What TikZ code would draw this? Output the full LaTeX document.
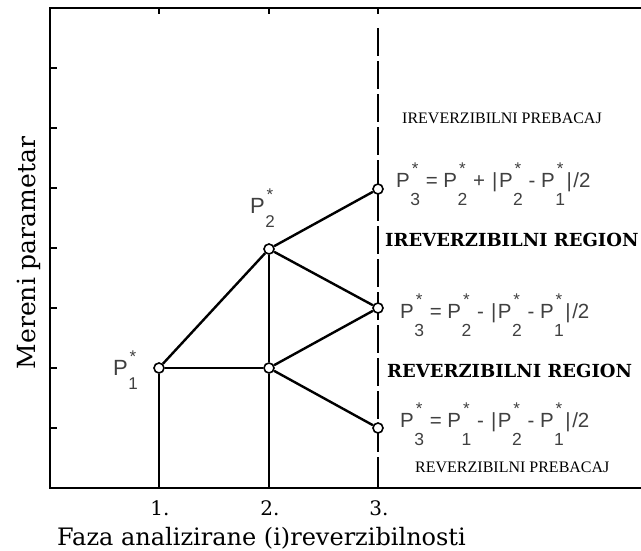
\documentclass[tikz,border=0pt]{standalone}
\usepackage{fontspec}
\setmainfont{DejaVu Serif}
\newfontfamily\eqfont{Liberation Sans}
\newfontfamily\capfont{Liberation Serif}
\newcommand\fsz[1]{\fontsize{#1}{#1}\selectfont}
% P with stacked star and index, equation size
\newcommand\Pq[1]{P\kern0.5pt\rlap{\kern1.4pt\raisebox{12.5pt}{\fsz{17}*}}\raisebox{-18pt}{\fsz{17.5}#1}}
% P with stacked star and index, point-label size
\newcommand\Pl[1]{{\fsz{22}P}\kern0.5pt\rlap{\kern1.2pt\raisebox{13pt}{\fsz{17}*}}\raisebox{-14pt}{\fsz{17}#1}}
\newcommand\absbar{\kern1.5pt|\kern1.5pt}
\tikzset{
  frame/.style={line width=2.5pt, line cap=rect},
  tick/.style={line width=1.5pt},
  thin line/.style={line width=1.2pt},
  thick line/.style={line width=2.4pt},
  dashline/.style={line width=1.1pt, dash pattern=on 28pt off 5pt},
  pt/.style={circle, draw, fill=white, line width=1.6pt, minimum size=10pt, inner sep=0pt},
  eq/.style={anchor=base west, inner sep=0pt, text=black!75, font=\eqfont\fsz{20.5}},
  plabel/.style={anchor=base west, inner sep=0pt, text=black!75, font=\eqfont},
  region/.style={anchor=base west, inner sep=0pt, font=\bfseries\fsz{18}},
  switch/.style={anchor=base west, inner sep=0pt, font=\capfont\fsz{16}},
  phase/.style={anchor=base, inner sep=0pt, font=\fsz{20}},
  axlabel/.style={inner sep=0pt, font=\fsz{24}},
}
\begin{document}
\begin{tikzpicture}[x=1pt, y=-1pt]
\useasboundingbox (0,0) rectangle (641,550);
% frame
\draw[frame] (641,8) -- (50,8) -- (50,488) -- (641,488);
% ticks
\foreach \yy in {68,128,188,248,308,368,428} \draw[tick] (50,\yy) -- (57,\yy);
\foreach \xx in {159,269,378} {
  \draw[tick] (\xx,8) -- (\xx,14);
  \draw[tick] (\xx,488) -- (\xx,481);
}
% dashed line at phase 3
\coordinate (d0) at (378,28);
\coordinate (d1) at (378,488);
\draw[dashline] (d0) -- (d1);
% axis foot points
\coordinate (a1) at (159,488);
\coordinate (a2) at (269,488);
% points
\node[pt] (p1) at (159,368) {};
\node[pt] (p2) at (269,249) {};
\node[pt] (p2b) at (269,368) {};
\node[pt] (p3a) at (378,189) {};
\node[pt] (p3b) at (378,308) {};
\node[pt] (p3c) at (378,428) {};
% thin connectors
\draw[thin line] (p1) -- (a1);
\draw[thin line] (p1) -- (p2b);
\draw[thin line] (p2) -- (p2b);
\draw[thin line] (p2b) -- (a2);
% thick connectors
\draw[thick line] (p1) -- (p2);
\draw[thick line] (p2) -- (p3a);
\draw[thick line] (p2) -- (p3b);
\draw[thick line] (p2b) -- (p3b);
\draw[thick line] (p2b) -- (p3c);
% point labels
\node[plabel] (l1) at (113,375) {\Pl{1}};
\node[plabel] (l2) at (250,213) {\Pl{2}};
% equations
\node[eq] (e1) at (396,187) {\Pq{3} = \Pq{2} + \absbar\Pq{2} - \Pq{1}\absbar/2};
\node[eq] (e2) at (400,318) {\Pq{3} = \Pq{2} - \absbar\Pq{2} - \Pq{1}\absbar/2};
\node[eq] (e3) at (400,427) {\Pq{3} = \Pq{1} - \absbar\Pq{2} - \Pq{1}\absbar/2};
% region labels
\node[region] (r1) at (385,246) {IREVERZIBILNI REGION};
\node[region] (r2) at (387,377) {REVERZIBILNI REGION};
\node[switch] (s1) at (402,123) {IREVERZIBILNI PREBACAJ};
\node[switch] (s2) at (415,472) {REVERZIBILNI PREBACAJ};
% phase numbers
\node[phase] (n1) at (160,515) {1.};
\node[phase] (n2) at (270,515) {2.};
\node[phase] (n3) at (379,515) {3.};
% axis labels
\node[axlabel, anchor=base west] (xl) at (57,545) {Faza analizirane (i)reverzibilnosti};
\node[axlabel, rotate=90, anchor=base, font=\fsz{25}] (yl) at (35,253) {Mereni parametar};
\end{tikzpicture}
\end{document}
